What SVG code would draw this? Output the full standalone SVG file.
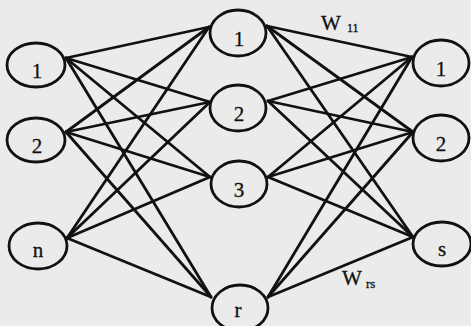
<svg xmlns="http://www.w3.org/2000/svg" width="471" height="326" viewBox="0 0 471 326">
<style>
.node ellipse{fill:none;stroke:#111;stroke-width:2.8}
.lbl{font-family:"Liberation Serif","Times New Roman",serif;font-size:21px;fill:#111;stroke:#111;stroke-width:0.3;text-anchor:middle}
.w{font-family:"Liberation Serif","Times New Roman",serif;fill:#111;stroke:#111;stroke-width:0.3}
#connectors line{stroke:#111;stroke-width:2.8;stroke-linecap:round}
</style>
<rect width="471" height="326" fill="#ebebeb"/>
<g id="connectors">
<line x1="66" y1="58" x2="209" y2="27"/>
<line x1="66" y1="58" x2="210" y2="102"/>
<line x1="66" y1="58" x2="210" y2="177"/>
<line x1="66" y1="58" x2="211" y2="297"/>
<line x1="66" y1="132" x2="209" y2="27"/>
<line x1="66" y1="132" x2="210" y2="102"/>
<line x1="66" y1="132" x2="210" y2="177"/>
<line x1="66" y1="132" x2="211" y2="297"/>
<line x1="67" y1="238" x2="209" y2="27"/>
<line x1="67" y1="238" x2="210" y2="102"/>
<line x1="67" y1="238" x2="210" y2="177"/>
<line x1="67" y1="238" x2="211" y2="297"/>
<line x1="267" y1="26" x2="412" y2="57"/>
<line x1="267" y1="26" x2="413" y2="132"/>
<line x1="267" y1="26" x2="413" y2="237"/>
<line x1="268" y1="101" x2="412" y2="57"/>
<line x1="268" y1="101" x2="413" y2="132"/>
<line x1="268" y1="101" x2="413" y2="237"/>
<line x1="268" y1="177" x2="412" y2="57"/>
<line x1="268" y1="177" x2="413" y2="132"/>
<line x1="268" y1="177" x2="413" y2="237"/>
<line x1="268" y1="297" x2="412" y2="57"/>
<line x1="268" y1="297" x2="413" y2="132"/>
<line x1="268" y1="297" x2="413" y2="237"/>
</g>
<g id="in1" class="node"><ellipse cx="36" cy="65" rx="29" ry="22"/><text class="lbl" x="37" y="78">1</text></g>
<g id="in2" class="node"><ellipse cx="36" cy="140" rx="29" ry="22"/><text class="lbl" x="37" y="153">2</text></g>
<g id="inn" class="node"><ellipse cx="38" cy="246" rx="29" ry="23"/><text class="lbl" x="38" y="257">n</text></g>
<g id="h1" class="node"><ellipse cx="238" cy="33" rx="28" ry="23"/><text class="lbl" x="239" y="46">1</text></g>
<g id="h2" class="node"><ellipse cx="238" cy="108" rx="28" ry="23"/><text class="lbl" x="239" y="121">2</text></g>
<g id="h3" class="node"><ellipse cx="239" cy="184" rx="28" ry="23"/><text class="lbl" x="239" y="197">3</text></g>
<g id="hr" class="node"><ellipse cx="240" cy="308" rx="28" ry="23"/><text class="lbl" x="238" y="317">r</text></g>
<g id="o1" class="node"><ellipse cx="441" cy="63" rx="28" ry="23"/><text class="lbl" x="441" y="76">1</text></g>
<g id="o2" class="node"><ellipse cx="441" cy="138" rx="28" ry="23"/><text class="lbl" x="441" y="151">2</text></g>
<g id="os" class="node"><ellipse cx="442" cy="244" rx="29" ry="22"/><text class="lbl" x="442" y="256">s</text></g>
<text class="w" x="321" y="30" font-size="21">W</text>
<text class="w" x="347" y="32" font-size="12">11</text>
<text class="w" x="342" y="285" font-size="21">W</text>
<text class="w" x="366" y="288" font-size="13">rs</text>
</svg>
